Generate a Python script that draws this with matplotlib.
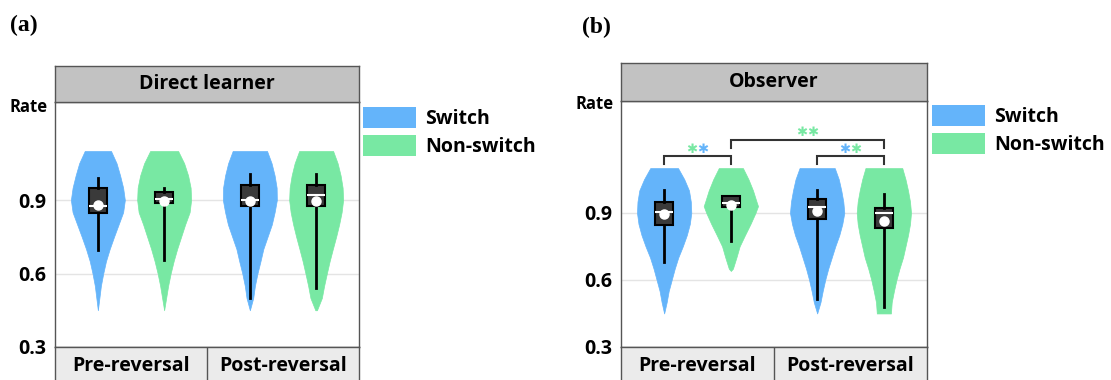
import matplotlib
matplotlib.use("Agg")
import matplotlib.pyplot as plt
from matplotlib.patches import Patch

# ---------------- data ----------------
categories = ["Pre-reversal", "Post-reversal"]
groups = ["Switch", "Non-switch"]
panel_titles = ["Direct learner", "Observer"]
panel_tags = ["(a)", "(b)"]
y_ticks = [0.3, 0.6, 0.9]
y_label = "Rate"

# order of violins: Pre/Switch, Pre/Non-switch, Post/Switch, Post/Non-switch
dl_whislo = [0.694, 0.654, 0.500, 0.541]
dl_q1 = [0.848, 0.889, 0.875, 0.875]
dl_median = [0.875, 0.906, 0.899, 0.919]
dl_q3 = [0.947, 0.933, 0.961, 0.961]
dl_whishi = [0.989, 0.947, 1.005, 1.005]
dl_mean = [0.880, 0.895, 0.897, 0.895]

ob_whislo = [0.679, 0.773, 0.515, 0.477]
ob_q1 = [0.846, 0.928, 0.873, 0.831]
ob_median = [0.903, 0.945, 0.925, 0.900]
ob_q3 = [0.947, 0.974, 0.963, 0.921]
ob_whishi = [1.004, 0.974, 1.004, 0.982]
ob_mean = [0.895, 0.933, 0.906, 0.862]

# violin outlines: rate levels and relative density (half-width) at each level
grid_levels = [1.10, 1.05, 1.00, 0.95, 0.90, 0.85, 0.80, 0.75, 0.70, 0.65, 0.60, 0.55, 0.50, 0.45]
dl_levels = [grid_levels, grid_levels, grid_levels, grid_levels]
dl_density = [
    [13, 18.5, 22, 25, 26.7, 25, 20.5, 16, 11.7, 8, 5.3, 3, 1.5, 0],
    [14, 20, 24, 26.5, 27, 25.5, 21, 17, 13, 9.5, 6.5, 4, 2, 0],
    [17, 21.5, 24.5, 26.5, 26.7, 24.5, 21.7, 17.5, 13.3, 10.5, 7.5, 5, 3.3, 0],
    [17, 21.5, 24.5, 26.5, 27, 25.5, 23, 20, 16.7, 13.5, 10.7, 8, 5.7, 0.8],
]
ob_levels = [
    grid_levels,
    [1.10, 1.05, 1.00, 0.95, 0.93, 0.90, 0.85, 0.80, 0.75, 0.70, 0.65, 0.64],
    grid_levels,
    grid_levels,
]
ob_density = [
    [13.8, 20, 24.7, 26.5, 27, 25.5, 22.5, 18.5, 14, 10.5, 7.5, 4.5, 2.5, 0],
    [12, 17.5, 22, 25.5, 27, 24.5, 19.5, 14, 8.7, 5.5, 2, 0],
    [17.5, 21.5, 24, 26, 27, 25, 22, 18, 14.5, 11, 8, 5.5, 3.3, 0],
    [18.3, 21.5, 24, 26, 27, 26, 24, 21.5, 19, 15.5, 12.5, 10, 7.8, 7],
]

# significance comparisons in the Observer panel: (violin i, violin j, level, star colours)
ob_comparisons = [
    (0, 1, 1.152, ["green", "blue"]),
    (1, 3, 1.227, ["green", "green"]),
    (2, 3, 1.155, ["blue", "green"]),
]

# ---------------- style ----------------
BLUE = "#64B4FA"
GREEN = "#78E8A3"
col = {"blue": BLUE, "green": GREEN}
FONT = "Open Sans"
plt.rcParams["font.family"] = [FONT, "DejaVu Sans"]

W, H = 1111, 380
fig = plt.figure(figsize=(W / 100, H / 100), dpi=100)


def rect(left, top, right, bottom):
    return [left / W, 1 - bottom / H, (right - left) / W, (bottom - top) / H]


offset = 0.218
positions = [0 - offset, 0 + offset, 1 - offset, 1 + offset]
colors = [BLUE, GREEN, BLUE, GREEN]

panels = [
    dict(title=panel_titles[0], tag=panel_tags[0], left=55, right=359, top=102, bottom=347,
         strip_top=66, ylim=(0.3, 1.3), levels=dl_levels, dens=dl_density,
         stats=(dl_whislo, dl_q1, dl_median, dl_q3, dl_whishi, dl_mean), comps=[],
         legend=(363, 107), tagpos=(10, 25), rate_y=107),
    dict(title=panel_titles[1], tag=panel_tags[1], left=621, right=927, top=101, bottom=347,
         strip_top=63, ylim=(0.3, 1.4), levels=ob_levels, dens=ob_density,
         stats=(ob_whislo, ob_q1, ob_median, ob_q3, ob_whishi, ob_mean), comps=ob_comparisons,
         legend=(932, 105), tagpos=(582, 27), rate_y=104),
]

for p in panels:
    ax = fig.add_axes(rect(p["left"], p["top"], p["right"], p["bottom"]))
    ax.set_xlim(-0.5, 1.5)
    ax.set_ylim(*p["ylim"])
    ax.grid(axis="y", color="#e4e4e4", linewidth=1.0, zorder=0)
    ax.set_axisbelow(True)
    for s in ax.spines.values():
        s.set_color("#555555")
        s.set_linewidth(1.0)

    # violins
    whislo, q1, med, q3, whishi, mean = p["stats"]
    vpstats = []
    for i in range(4):
        vpstats.append(dict(coords=p["levels"][i], vals=p["dens"][i], mean=mean[i],
                            median=med[i], min=min(p["levels"][i]), max=max(p["levels"][i])))
    vp = ax.violin(vpstats, positions=positions, widths=0.355, showmeans=False,
                   showextrema=False, showmedians=False)
    for body, c in zip(vp["bodies"], colors):
        body.set_facecolor(c)
        body.set_edgecolor(c)
        body.set_linewidth(0.5)
        body.set_alpha(1)
        body.set_zorder(2)

    # boxes
    bstats = []
    for i in range(4):
        bstats.append(dict(whislo=whislo[i], q1=q1[i], med=med[i], q3=q3[i],
                           whishi=whishi[i], mean=mean[i], fliers=[]))
    ax.bxp(bstats, positions=positions, widths=0.118, patch_artist=True, showmeans=True,
           showcaps=False, showfliers=False, manage_ticks=False,
           boxprops=dict(facecolor="#3a3a3a", edgecolor="black", linewidth=1.5),
           medianprops=dict(color="white", linewidth=1.5),
           whiskerprops=dict(color="black", linewidth=2),
           meanprops=dict(marker="o", markerfacecolor="white", markeredgecolor="white",
                          markersize=6.5),
           zorder=3)

    ax.set_xlim(-0.5, 1.5)
    ax.set_ylim(*p["ylim"])
    ax.set_xticks([])
    ax.set_yticks(y_ticks)
    ax.set_yticklabels([f"{t:.1f}" for t in y_ticks], fontsize=14, fontweight="bold")
    ax.tick_params(axis="y", length=0, pad=6)

    # significance brackets
    for (i, j, lvl, scol) in p["comps"]:
        drop = 0.035
        ax.plot([positions[i], positions[i], positions[j], positions[j]],
                [lvl - drop, lvl, lvl, lvl - drop], color="#333333", linewidth=1.5,
                zorder=4, solid_joinstyle="miter")
        xm = (positions[i] + positions[j]) / 2
        for k, sc in enumerate(scol):
            ax.annotate("\u2731", xy=(xm, lvl + 0.03), xytext=(-5.5 + 11 * k, 0),
                        textcoords="offset pixels", ha="center", va="center",
                        fontsize=9.5, color=col[sc], family=["DejaVu Sans"], zorder=5)

    # y label "Rate"
    ax.annotate(y_label, xy=(0, 1), xycoords="axes fraction",
                xytext=(-7, -(p["rate_y"] - p["top"])), textcoords="offset pixels",
                ha="right", va="center", fontsize=12, fontweight="bold")

    # top strip
    st = fig.add_axes(rect(p["left"], p["strip_top"], p["right"], p["top"]))
    st.set_facecolor("#c2c2c2")
    st.set_xticks([]); st.set_yticks([])
    for s in st.spines.values():
        s.set_color("#555555"); s.set_linewidth(1.0)
    st.text(0.5, 0.5, p["title"], transform=st.transAxes, ha="center", va="center",
            fontsize=14, fontweight="bold")

    # bottom strip
    sb = fig.add_axes(rect(p["left"], p["bottom"], p["right"], p["bottom"] + 38))
    sb.set_facecolor("#ebebeb")
    sb.set_xlim(-0.5, 1.5)
    sb.set_ylim(0, 1)
    sb.set_xticks([]); sb.set_yticks([])
    for s in sb.spines.values():
        s.set_color("#555555"); s.set_linewidth(1.0)
    sb.axvline(0.5, color="#555555", linewidth=1.0)
    for k, c in enumerate(categories):
        sb.text(k, 0.5, c, ha="center", va="center", fontsize=14, fontweight="bold")

    # legend
    handles = [Patch(facecolor=BLUE, edgecolor="none"), Patch(facecolor=GREEN, edgecolor="none")]
    lx, ly = p["legend"]
    fig.legend(handles, groups, loc="upper left", bbox_to_anchor=(lx / W, 1 - ly / H),
               frameon=False, prop=dict(weight="bold", size=14),
               handlelength=2.75, handleheight=1.3, labelspacing=0.3, handletextpad=0.45,
               borderpad=0, borderaxespad=0)

    # panel tag
    tx, ty = p["tagpos"]
    fig.text(tx / W, 1 - ty / H, p["tag"], ha="left", va="center", fontsize=17,
             fontweight="bold", family=["Liberation Serif", "DejaVu Serif"])

fig.savefig("out.png", dpi=100)
